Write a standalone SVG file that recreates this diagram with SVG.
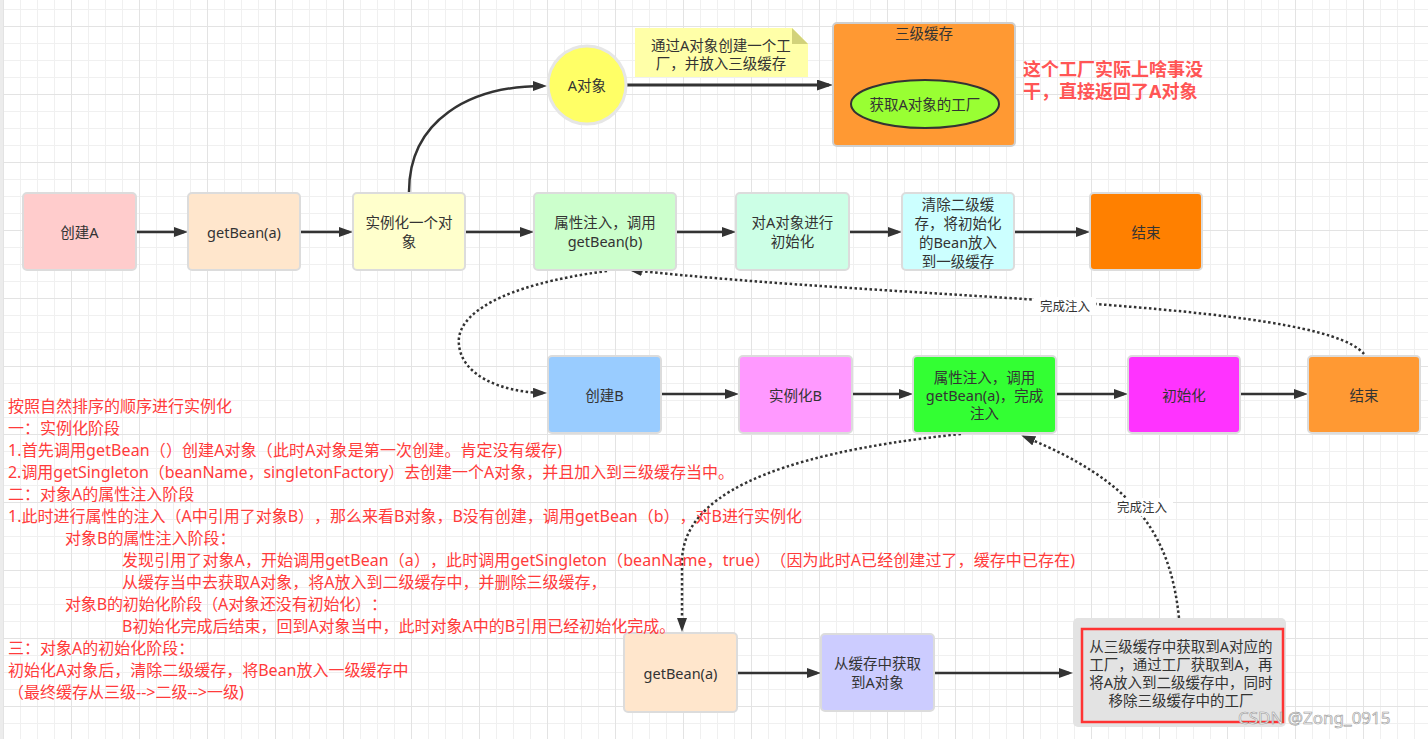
<svg xmlns="http://www.w3.org/2000/svg" width="1428" height="739" viewBox="0 0 1428 739">
<style>
text{text-spacing-trim:space-all}
.nt{font-family:"Noto Sans","Noto Sans CJK SC",sans-serif;font-size:14.5px;fill:#333;text-anchor:middle;dominant-baseline:central}
.box{stroke:#dcdcdc;stroke-width:2}
.ln{fill:none;stroke:#333;stroke-width:2.5}
.dot{fill:none;stroke:#333;stroke-width:2.5;stroke-dasharray:2.5 2.5}
.red{font-family:"Noto Sans","Noto Sans CJK SC",sans-serif;font-size:16px;fill:#ff3b3b}
.lbl{font-family:"Noto Sans","Noto Sans CJK SC",sans-serif;font-size:12.5px;fill:#333;text-anchor:middle;dominant-baseline:central}
</style>
<defs>
<pattern id="grid" x="3" y="26" width="68" height="68" patternUnits="userSpaceOnUse">
<rect x="17" y="0" width="1" height="68" fill="#f0f0f0"/>
<rect x="34" y="0" width="1" height="68" fill="#f0f0f0"/>
<rect x="51" y="0" width="1" height="68" fill="#f0f0f0"/>
<rect x="0" y="17" width="68" height="1" fill="#f0f0f0"/>
<rect x="0" y="34" width="68" height="1" fill="#f0f0f0"/>
<rect x="0" y="51" width="68" height="1" fill="#f0f0f0"/>
<rect x="0" y="0" width="1" height="68" fill="#e3e3e3"/>
<rect x="0" y="0" width="68" height="1" fill="#e3e3e3"/>
</pattern>
<marker id="ah" markerWidth="15" markerHeight="11" refX="10" refY="5" orient="auto" markerUnits="userSpaceOnUse">
<path d="M0,0 L14,5 L0,10 Z" fill="#333"/>
</marker>
<marker id="ahb" markerWidth="17" markerHeight="12" refX="12" refY="5.5" orient="auto" markerUnits="userSpaceOnUse">
<path d="M0,0 L16,5.5 L0,11 Z" fill="#333"/>
</marker>
</defs>
<rect width="1428" height="739" fill="#fff"/>
<rect width="1428" height="739" fill="url(#grid)"/>
<rect x="0" y="0" width="3" height="739" fill="#ececec"/>

<g id="connectors">
<line class="ln" x1="136" y1="232" x2="184" y2="232" marker-end="url(#ah)"/>
<line class="ln" x1="300" y1="232" x2="349" y2="232" marker-end="url(#ah)"/>
<line class="ln" x1="465" y1="232" x2="530" y2="232" marker-end="url(#ah)"/>
<line class="ln" x1="676" y1="232" x2="732" y2="232" marker-end="url(#ah)"/>
<line class="ln" x1="849" y1="232" x2="898" y2="232" marker-end="url(#ah)"/>
<line class="ln" x1="1014" y1="232" x2="1086" y2="232" marker-end="url(#ah)"/>
<line class="ln" x1="661" y1="394" x2="735" y2="394" marker-end="url(#ah)"/>
<line class="ln" x1="852" y1="394" x2="909" y2="394" marker-end="url(#ah)"/>
<line class="ln" x1="1056" y1="394" x2="1124" y2="394" marker-end="url(#ah)"/>
<line class="ln" x1="1240" y1="394" x2="1304" y2="394" marker-end="url(#ah)"/>
<line class="ln" x1="737" y1="673" x2="817" y2="673" marker-end="url(#ah)"/>
<line class="ln" x1="934" y1="673" x2="1069" y2="673" marker-end="url(#ah)"/>
<line class="ln" style="stroke-width:3" x1="627" y1="85" x2="829" y2="85" marker-end="url(#ahb)"/>
<path class="ln" d="M409,192 C409,120 470,86 543,86" marker-end="url(#ah)"/>
<path class="dot" d="M607,271 C500,285 455,315 459,345 C462,375 500,392 543,393" marker-end="url(#ah)"/>
<path class="dot" d="M1364,354 C1320,300 900,300 632,270" marker-end="url(#ah)"/>
<path class="dot" d="M961,434 C760,455 684,500 682,560 L682,628" marker-end="url(#ah)"/>
<path class="dot" d="M1179,618 C1170,530 1130,480 1025,437" marker-end="url(#ah)"/>
<rect x="1034" y="297" width="62" height="18" fill="#fff"/>
<text class="lbl" x="1065" y="306">完成注入</text>
<rect x="1111" y="498" width="62" height="18" fill="#fff"/>
<text class="lbl" x="1142" y="507">完成注入</text>
</g>

<g id="objA">
<ellipse cx="587" cy="85" rx="39" ry="39" fill="#ffff66" stroke="#e6e6e6" stroke-width="3"/>
<text class="nt" x="587" y="85">A对象</text>
</g>
<g id="note">
<path d="M635,28 H792 L808,44 V77 H635 Z" fill="#ffffa8"/>
<path d="M792,28 L808,44 H792 Z" fill="#d2d27a"/>
<text class="nt" x="721" y="45">通过A对象创建一个工</text>
<text class="nt" x="721" y="63">厂，并放入三级缓存</text>
</g>
<g id="cache3">
<rect x="833" y="23" width="182" height="123" rx="4" fill="#ff9933" stroke="#cfcfcf" stroke-width="2"/>
<text class="nt" x="924" y="33">三级缓存</text>
<ellipse cx="925" cy="104" rx="74" ry="24" fill="#99ff33" stroke="#333" stroke-width="2"/>
<text class="nt" x="925" y="104">获取A对象的工厂</text>
</g>
<g id="note2">
<text x="1023" y="76" style="font-family:'Noto Sans','Noto Sans CJK SC',sans-serif;font-size:18px;font-weight:bold;fill:#ff5555">这个工厂实际上啥事没</text>
<text x="1023" y="98" style="font-family:'Noto Sans','Noto Sans CJK SC',sans-serif;font-size:18px;font-weight:bold;fill:#ff5555">干，直接返回了A对象</text>
</g>

<g id="createA"><rect class="box" x="23" y="193" width="113" height="77" rx="4" fill="#ffcccc"/><text class="nt" x="79.5" y="231.5">创建A</text></g>
<g id="getBeanA"><rect class="box" x="188" y="193" width="112" height="77" rx="4" fill="#ffe6cc"/><text class="nt" x="244" y="231.5">getBean(a)</text></g>
<g id="instA"><rect class="box" x="353" y="193" width="112" height="77" rx="4" fill="#ffffcc"/><text class="nt" x="409" y="222">实例化一个对</text><text class="nt" x="409" y="241">象</text></g>
<g id="injectA"><rect class="box" x="534" y="193" width="142" height="77" rx="4" fill="#ccffcc"/><text class="nt" x="605" y="222">属性注入，调用</text><text class="nt" x="605" y="241">getBean(b)</text></g>
<g id="initA"><rect class="box" x="736" y="193" width="113" height="77" rx="4" fill="#ccffe6"/><text class="nt" x="792.5" y="222">对A对象进行</text><text class="nt" x="792.5" y="241">初始化</text></g>
<g id="clearA"><rect class="box" x="902" y="193" width="112" height="77" rx="4" fill="#ccffff"/><text class="nt" x="958" y="204">清除二级缓</text><text class="nt" x="958" y="223">存，将初始化</text><text class="nt" x="958" y="242">的Bean放入</text><text class="nt" x="958" y="261">到一级缓存</text></g>
<g id="endA"><rect class="box" x="1090" y="193" width="112" height="77" rx="4" fill="#ff8000"/><text class="nt" x="1146" y="231.5">结束</text></g>

<g id="createB"><rect class="box" x="548" y="356" width="113" height="77" rx="4" fill="#99ccff"/><text class="nt" x="604.5" y="394.5">创建B</text></g>
<g id="instB"><rect class="box" x="739" y="356" width="113" height="77" rx="4" fill="#ff99ff"/><text class="nt" x="795.5" y="394.5">实例化B</text></g>
<g id="injectB"><rect class="box" x="913" y="356" width="143" height="77" rx="4" fill="#33ff33"/><text class="nt" x="984.5" y="377">属性注入，调用</text><text class="nt" x="984.5" y="395">getBean(a)，完成</text><text class="nt" x="984.5" y="413">注入</text></g>
<g id="initB"><rect class="box" x="1128" y="356" width="112" height="77" rx="4" fill="#ff33ff"/><text class="nt" x="1184" y="394.5">初始化</text></g>
<g id="endB"><rect class="box" x="1308" y="356" width="112" height="77" rx="4" fill="#ff9933"/><text class="nt" x="1364" y="394.5">结束</text></g>

<g id="getBeanA2"><rect class="box" x="624" y="633" width="113" height="79" rx="4" fill="#ffe6cc"/><text class="nt" x="680.5" y="672.5">getBean(a)</text></g>
<g id="fromCache"><rect class="box" x="821" y="634" width="113" height="77" rx="4" fill="#ccccff"/><text class="nt" x="877.5" y="663">从缓存中获取</text><text class="nt" x="877.5" y="682">到A对象</text></g>
<g id="factory">
<rect x="1073" y="618" width="213" height="109" rx="5" fill="#e3e3e3"/>
<rect x="1082" y="629" width="201" height="93" fill="none" stroke="#ff3333" stroke-width="2.5"/>
<text class="nt" x="1181" y="646">从三级缓存中获取到A对应的</text>
<text class="nt" x="1181" y="664">工厂，通过工厂获取到A，再</text>
<text class="nt" x="1181" y="682">将A放入到二级缓存中，同时</text>
<text class="nt" x="1181" y="700">移除三级缓存中的工厂</text>
</g>

<g id="explain">
<text class="red" x="8" y="412">按照自然排序的顺序进行实例化</text>
<text class="red" x="8" y="434">一：实例化阶段</text>
<text class="red" x="8" y="456" textLength="554">1.首先调用getBean（）创建A对象（此时A对象是第一次创建。肯定没有缓存)</text>
<text class="red" x="8" y="478" textLength="726">2.调用getSingleton（beanName，singletonFactory）去创建一个A对象，并且加入到三级缓存当中。</text>
<text class="red" x="8" y="500">二：对象A的属性注入阶段</text>
<text class="red" x="8" y="522" textLength="794">1.此时进行属性的注入（A中引用了对象B），那么来看B对象，B没有创建，调用getBean（b），对B进行实例化</text>
<text class="red" x="65" y="544">对象B的属性注入阶段：</text>
<text class="red" x="122" y="566" textLength="953">发现引用了对象A，开始调用getBean（a），此时调用getSingleton（beanName，true）（因为此时A已经创建过了，缓存中已存在)</text>
<text class="red" x="122" y="588">从缓存当中去获取A对象，将A放入到二级缓存中，并删除三级缓存，</text>
<text class="red" x="65" y="610" textLength="322">对象B的初始化阶段（A对象还没有初始化）：</text>
<text class="red" x="122" y="632">B初始化完成后结束，回到A对象当中，此时对象A中的B引用已经初始化完成。</text>
<text class="red" x="8" y="654">三：对象A的初始化阶段：</text>
<text class="red" x="8" y="676">初始化A对象后，清除二级缓存，将Bean放入一级缓存中</text>
<text class="red" x="8" y="698">（最终缓存从三级--&gt;二级--&gt;一级)</text>
</g>
<text x="1238" y="724" style="font-family:'Noto Sans',sans-serif;font-size:17px;fill:#f6f6f6;stroke:#9a9a9a;stroke-width:0.6">CSDN @Zong_0915</text>
</svg>
